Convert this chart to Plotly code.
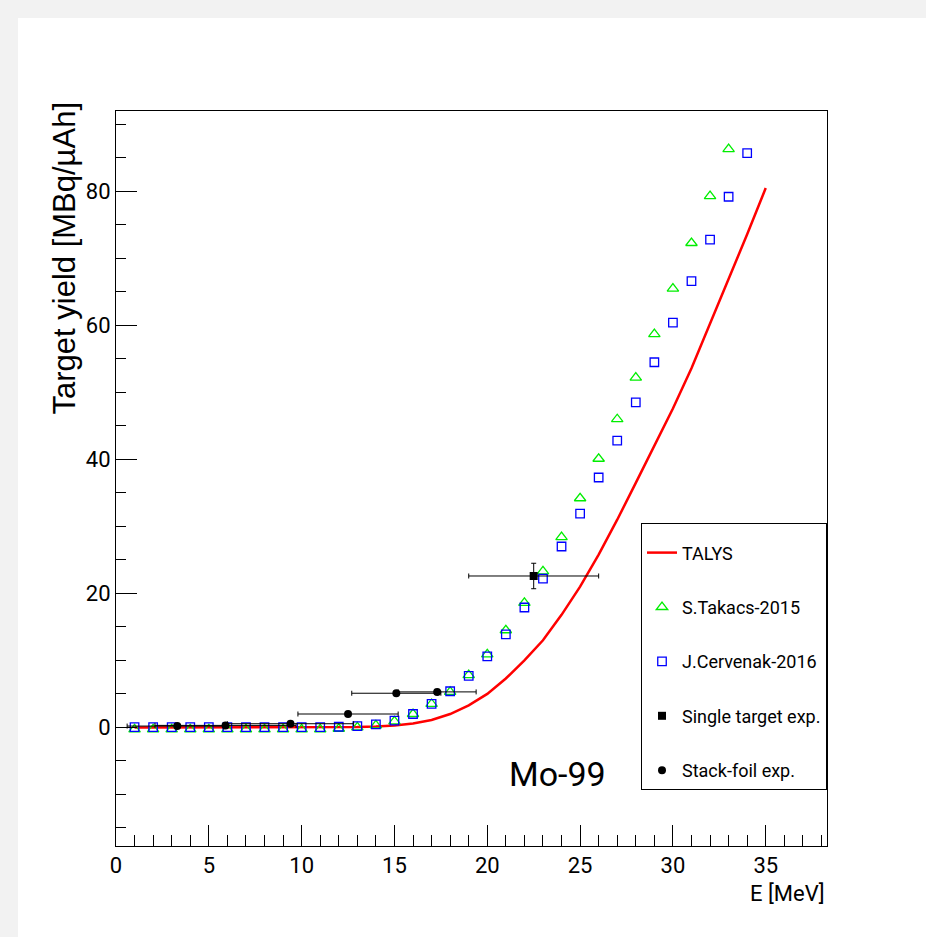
import plotly.graph_objects as go

# ---------------- data ----------------
talys_E = [1, 2, 3, 4, 5, 6, 7, 8, 9, 10, 11, 12, 13, 14, 15, 16, 17, 18, 19, 20,
           21, 22, 23, 24, 25, 26, 27, 28, 29, 30, 31, 32, 33, 34, 35]
talys_Y = [0, 0, 0, 0, 0, 0, 0, 0, 0, 0, 0.01, 0.02, 0.05, 0.12, 0.28, 0.6, 1.1, 2.0, 3.3, 5.0,
           7.3, 10.0, 13.0, 16.8, 21.0, 25.8, 31.0, 36.5, 42.0, 47.6, 53.6, 60.2, 66.8, 73.6, 80.5]

takacs_E = list(range(1, 34))
takacs_Y = [-0.3, -0.3, -0.3, -0.3, -0.3, -0.3, -0.3, -0.3, -0.3, -0.3, -0.3, -0.2, 0.0, 0.3,
            0.9, 2.0, 3.5, 5.3, 7.8, 10.9, 14.5, 18.6, 23.3, 28.4, 34.2, 40.1, 46.0, 52.2,
            58.7, 65.5, 72.3, 79.3, 86.3]

cervenak_E = list(range(1, 35))
cervenak_Y = [0.05, 0.05, 0.05, 0.05, 0.05, 0.05, 0.05, 0.05, 0.05, 0.05, 0.05, 0.1, 0.2, 0.45,
              1.0, 2.0, 3.5, 5.4, 7.7, 10.6, 13.9, 17.9, 22.2, 27.0, 31.9, 37.3, 42.8, 48.5,
              54.5, 60.4, 66.6, 72.8, 79.2, 85.7]

single_E = [22.5]
single_Y = [22.6]
single_dE = [3.5]
single_dY = [1.9]

stack_E = [3.3, 5.9, 9.4, 12.5, 15.1, 17.3]
stack_Y = [0.2, 0.3, 0.55, 2.0, 5.1, 5.3]
stack_dE = [2.7, 3.8, 3.4, 2.7, 2.4, 2.1]

x_ticks = [0, 5, 10, 15, 20, 25, 30, 35]
y_ticks = [0, 20, 40, 60, 80]

NARROW = "Roboto, Liberation Sans, sans-serif"
REG = "Liberation Sans, Arial, Helvetica, sans-serif"

fig = go.Figure()

fig.add_trace(go.Scatter(x=talys_E, y=talys_Y, mode="lines", name="TALYS",
                         line=dict(color="#ff0000", width=2.5), legendgroup="a"))
fig.add_trace(go.Scatter(x=takacs_E, y=takacs_Y, mode="markers", name="S.Takacs-2015",
                         marker=dict(symbol="triangle-up-open", size=10, color="#00ee00",
                                     line=dict(width=1.3, color="#00ee00")), legendgroup="b"))
fig.add_trace(go.Scatter(x=cervenak_E, y=cervenak_Y, mode="markers", name="J.Cervenak-2016",
                         marker=dict(symbol="square-open", size=8.5, color="#0000ff",
                                     line=dict(width=1.3, color="#0000ff")), legendgroup="c"))
fig.add_trace(go.Scatter(x=single_E, y=single_Y, mode="markers", name="Single target exp.",
                         marker=dict(symbol="square", size=8, color="black"),
                         error_x=dict(type="data", array=single_dE, color="black", thickness=1, width=2.5),
                         error_y=dict(type="data", array=single_dY, color="black", thickness=1, width=2.5),
                         legendgroup="d"))
fig.add_trace(go.Scatter(x=stack_E, y=stack_Y, mode="markers", name="Stack-foil exp.",
                         marker=dict(symbol="circle", size=8, color="black"),
                         error_x=dict(type="data", array=stack_dE, color="black", thickness=1, width=2.5),
                         legendgroup="e"))

# plot area geometry
L, R, T, B = 116, 99, 111, 91
W, H = 926, 937
pw = W - L - R
ph = H - T - B

def px(xp):
    return (xp - L) / pw

def py(yp):
    return (H - B - yp) / ph

shapes = [
    dict(type="rect", xref="paper", yref="paper", x0=px(18), x1=px(W + 5), y0=py(H + 5), y1=py(18),
         fillcolor="white", line=dict(width=0), layer="below"),
]

annotations = [
    dict(text="Target yield [MBq/\u00b5Ah]", xref="paper", yref="paper", x=px(64), y=py(100),
         xanchor="center", yanchor="top", textangle=-90, showarrow=False,
         font=dict(family=REG, size=31, color="black")),
    dict(text="E [MeV]", xref="paper", yref="paper", x=1.0, y=py(893),
         xanchor="right", yanchor="middle", showarrow=False,
         font=dict(family=NARROW, size=22, color="black")),
    dict(text="Mo-99", xref="x", yref="y", x=23.8, y=-7.0,
         xanchor="center", yanchor="middle", showarrow=False,
         font=dict(family=NARROW, size=34, color="black")),
]

fig.update_layout(
    width=W, height=H,
    margin=dict(l=L, r=R, t=T, b=B),
    paper_bgcolor="#f2f2f2",
    plot_bgcolor="white",
    showlegend=True,
    shapes=shapes,
    annotations=annotations,
    legend=dict(x=1.0, xanchor="right", y=py(523), yanchor="top",
                bgcolor="white", bordercolor="black", borderwidth=1,
                font=dict(family=NARROW, size=18, color="black"),
                title=dict(text=" ", font=dict(size=8)),
                tracegroupgap=28, itemwidth=30),
    xaxis=dict(range=[0, 38.3], tickvals=x_ticks, ticks="inside", ticklen=21, tickwidth=1,
               tickcolor="black", showline=True, linecolor="black", linewidth=1, mirror=True,
               showgrid=False, zeroline=False,
               tickfont=dict(family=NARROW, size=22, color="black"),
               minor=dict(dtick=1, tick0=0, ticks="inside", ticklen=11, tickcolor="black",
                          tickwidth=1, showgrid=False)),
    yaxis=dict(range=[-17.7, 92.0], tickvals=y_ticks, ticks="inside", ticklen=21, tickwidth=1,
               tickcolor="black", showline=True, linecolor="black", linewidth=1, mirror=True,
               showgrid=False, zeroline=False,
               tickfont=dict(family=NARROW, size=22, color="black"),
               minor=dict(dtick=5, tick0=0, ticks="inside", ticklen=10, tickcolor="black",
                          tickwidth=1, showgrid=False)),
)

fig.write_html("out.html")
